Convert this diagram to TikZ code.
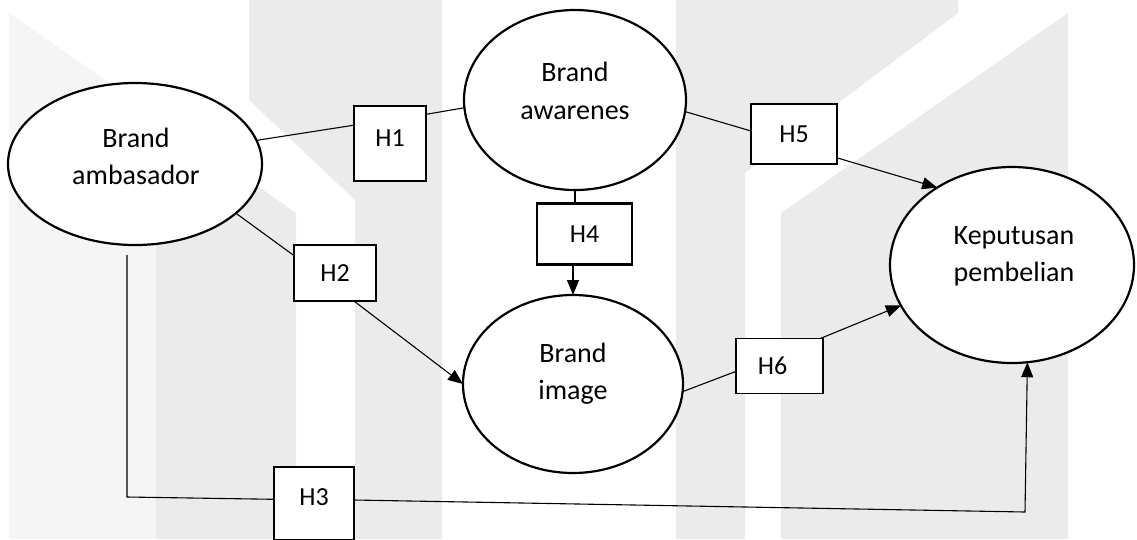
\documentclass[tikz,border=0pt]{standalone}
\usepackage{fontspec}
\setmainfont{Carlito}
\usetikzlibrary{shapes.geometric,arrows.meta,calc}
\begin{document}
\begin{tikzpicture}[x=1pt,y=-1pt,
  ell/.style={draw,ellipse,fill=white,line width=2.2pt,inner sep=0pt,outer sep=0pt},
  hbox/.style={draw,fill=white,line width=1.2pt,inner sep=0pt,outer sep=0pt,font=\fontsize{26}{30}\selectfont},
  etxt/.style={anchor=base,inner sep=0pt,font=\fontsize{28}{34}\selectfont},
  conn/.style={line width=1.1pt},
  arr/.style={conn,-{Triangle[length=15pt,width=12pt]}},
  wm/.style={fill=black!8,draw=none},
  wml/.style={fill=black!4,draw=none}]
\useasboundingbox (0,0) rectangle (1137,539);
\fill[white] (0,0) rectangle (1137,539);
% faint watermark
\fill[wml] (9,13) -- (156,115) -- (156,539) -- (9,539) -- cycle;
\fill[wm] (156,115) -- (296,213) -- (296,539) -- (156,539) -- cycle;
\fill[wm] (249,0) -- (442,0) -- (442,539) -- (355,539) -- (355,200) -- (249,100) -- cycle;
\fill[wm] (676,0) -- (958,0) -- (958,13) -- (745,173) -- (745,539) -- (676,539) -- cycle;
\fill[wm] (1068,13) -- (1068,539) -- (781,539) -- (781,213) -- cycle;

% ellipses
\node[ell,minimum width=254pt,minimum height=162pt] (ba) at (135,164) {};
\node[ell,minimum width=222pt,minimum height=180pt] (bw) at (575,100) {};
\node[ell,minimum width=220pt,minimum height=178pt] (bi) at (573,384) {};
\node[ell,minimum width=244pt,minimum height=196pt] (kp) at (1012,265) {};

\node[etxt] (baT1) at (136,147) {Brand};
\node[etxt] (baT2) at (136,184) {ambasador};
\node[etxt] (bwT1) at (575,81) {Brand};
\node[etxt] (bwT2) at (575,119) {awarenes};
\node[etxt] (biT1) at (573,362) {Brand};
\node[etxt] (biT2) at (573,399) {image};
\node[etxt] (kpT1) at (1014,244) {Keputusan};
\node[etxt] (kpT2) at (1014,281) {pembelian};

% hypothesis boxes
\node[hbox,minimum width=72pt,minimum height=75pt] (H1) at (390,143.5) {\raisebox{5pt}[\height][\depth]{H1}};
\node[hbox,minimum width=86pt,minimum height=60pt] (H5) at (794,134) {H5};
\node[hbox,line width=2.4pt,minimum width=95pt,minimum height=61pt] (H4) at (584.5,234) {H4};
\node[hbox,minimum width=82pt,minimum height=56pt] (H2) at (335,273) {H2};
\node[hbox,minimum width=87pt,minimum height=55pt] (H6) at (779.5,366) {\hspace*{-14pt}H6};
\node[hbox,minimum width=80pt,minimum height=73pt] (H3) at (314,503.5) {\raisebox{6pt}[\height][\depth]{H3}};

% connectors
\draw[conn] (ba.11) -- (H1.153);
\draw[conn] (H1.39) -- (bw.184);
\draw[conn] (bw.-6) -- (H5.176);
\draw[arr] (H5.-29) -- (kp.134);
\draw[conn] (bw.south) -- (bw.south |- H4.north);
\draw[arr] (H4.south -| bi.north) -- (bi.north);
\draw[conn] (ba.-26) -- (H2.157);
\draw[arr] (H2.-56) -- (bi.west);
\draw[conn] (bi.-4) -- (H6.187);
\draw[arr] (H6.34) -- (kp.200);
\coordinate (c3a) at (127,255);
\coordinate (c3b) at (127,497);
\coordinate (c3c) at (1025,512);
\draw[conn] (c3a) -- (c3b) -- (H3.174);
\draw[arr] (H3.5) -- (c3c) -- (kp.-81);
\end{tikzpicture}
\end{document}
